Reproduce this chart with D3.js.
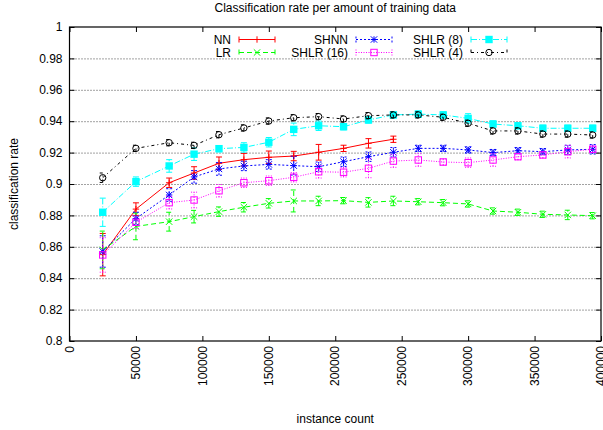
<!DOCTYPE html>
<html>
<head>
<meta charset="utf-8">
<script src="https://cdn.jsdelivr.net/npm/d3@7"></script>
<style>
  body { margin: 0; background: #fff; }
  svg text { font-family: "Liberation Sans", Arial, sans-serif; font-size: 12px; fill: #000; }
</style>
</head>
<body>
<div id="chart"></div>
<script>
// training sizes
const counts = [25000, 50000, 75000, 93750, 112500, 131250, 150000, 168750, 187500, 206250,
  225000, 243750, 262500, 281250, 300000, 318750, 337500, 356250, 375000, 393750];

const nnRate = [0.855, 0.884, 0.9008, 0.907, 0.9132, 0.9155, 0.917, 0.9178, 0.9202, 0.9227, 0.9259, 0.9285];
const nnErr = [0.0135, 0.004, 0.003, 0.004, 0.004, 0.004, 0.004, 0.003, 0.005, 0.002, 0.003, 0.002];

const lrRate = [0.858, 0.873, 0.876, 0.8792, 0.8824, 0.8852, 0.8877, 0.8892, 0.8892, 0.8894,
  0.8883, 0.8892, 0.8887, 0.8881, 0.8873, 0.8828, 0.882, 0.8807, 0.8803, 0.8798];
const lrErr = [0.012, 0.0085, 0.006, 0.004, 0.003, 0.003, 0.003, 0.007, 0.003, 0.002,
  0.003, 0.003, 0.002, 0.002, 0.002, 0.002, 0.002, 0.002, 0.003, 0.002];

const shnnRate = [0.857, 0.878, 0.893, 0.9045, 0.9096, 0.9115, 0.9125, 0.9117, 0.911, 0.9142,
  0.9174, 0.9202, 0.9227, 0.9227, 0.9217, 0.92, 0.9212, 0.9206, 0.9217, 0.9221];
const shnnErr = [0.01, 0.004, 0.004, 0.004, 0.004, 0.003, 0.003, 0.006, 0.003, 0.003,
  0.003, 0.003, 0.002, 0.002, 0.002, 0.002, 0.002, 0.002, 0.003, 0.003];

const shlr16Rate = [0.8548, 0.8756, 0.8881, 0.8898, 0.8957, 0.9008, 0.9021, 0.9043, 0.9078, 0.9075,
  0.91, 0.9146, 0.9153, 0.914, 0.9136, 0.9153, 0.9174, 0.9185, 0.9206, 0.9221];
const shlr16Err = [0.011, 0.004, 0.004, 0.005, 0.004, 0.003, 0.003, 0.003, 0.004, 0.003,
  0.006, 0.004, 0.004, 0.002, 0.003, 0.004, 0.002, 0.002, 0.004, 0.002];

const shlr8Rate = [0.882, 0.9015, 0.9115, 0.919, 0.9225, 0.9233, 0.9266, 0.9348, 0.9371, 0.9365,
  0.9408, 0.944, 0.9445, 0.944, 0.9418, 0.9382, 0.9371, 0.9355, 0.9355, 0.9355];
const shlr8Err = [0.009, 0.003, 0.004, 0.004, 0.002, 0.003, 0.003, 0.004, 0.003, 0.002,
  0.002, 0.002, 0.002, 0.002, 0.003, 0.002, 0.002, 0.002, 0.002, 0.002];

const shlr4Rate = [0.904, 0.9227, 0.9263, 0.9246, 0.9314, 0.9357, 0.9401, 0.9422, 0.9429, 0.9414,
  0.9435, 0.944, 0.944, 0.9425, 0.9387, 0.9338, 0.9338, 0.9318, 0.9318, 0.9312];
const shlr4Err = [0.003, 0.002, 0.002, 0.002, 0.002, 0.002, 0.002, 0.002, 0.002, 0.002,
  0.002, 0.002, 0.002, 0.002, 0.002, 0.002, 0.002, 0.002, 0.002, 0.002];

const xTicks = [0, 50000, 100000, 150000, 200000, 250000, 300000, 350000, 400000];
const yTicks = [0.8, 0.82, 0.84, 0.86, 0.88, 0.9, 0.92, 0.94, 0.96, 0.98, 1];

const series = [
  { name: "NN", rate: nnRate, err: nnErr, color: "#ff0000", dash: null, mark: "plus" },
  { name: "LR", rate: lrRate, err: lrErr, color: "#00ff00", dash: "5,3", mark: "cross" },
  { name: "SHNN", rate: shnnRate, err: shnnErr, color: "#0000ff", dash: "2,2", mark: "star" },
  { name: "SHLR (16)", rate: shlr16Rate, err: shlr16Err, color: "#ff00ff", dash: "1,1.5", mark: "box" },
  { name: "SHLR (8)", rate: shlr8Rate, err: shlr8Err, color: "#00ffff", dash: "6,2,1,2", mark: "fbox" },
  { name: "SHLR (4)", rate: shlr4Rate, err: shlr4Err, color: "#000000", dash: "3,3,1,3", mark: "circle" }
];

const width = 603, height = 430,
    margin = ({ top: 27, right: 2, bottom: 89, left: 69.5 });

const svg = d3.select("#chart")
    .append("svg")
    .attr("width", width)
    .attr("height", height);

let x = d3.scaleLinear()
    .domain([0, 400000])
    .range([margin.left, width - margin.right]);

let y = d3.scaleLinear()
    .domain([0.8, 1])
    .range([height - margin.bottom, margin.top]);

// grid
svg.append("g")
    .selectAll("line")
    .data(yTicks.slice(1, -1))
    .join("line")
    .attr("x1", margin.left)
    .attr("x2", width - margin.right)
    .attr("y1", d => y(d) + 0.5)
    .attr("y2", d => y(d) + 0.5)
    .attr("stroke", "#444")
    .attr("stroke-width", 1)
    .attr("stroke-dasharray", "1,2");

// y axis (ticks inward, mirrored)
svg.append("g")
    .attr("transform", `translate(${margin.left},0)`)
    .call(d3.axisRight(y).tickValues(yTicks).tickSize(5).tickFormat(""))
    .call(g => g.select(".domain").remove());
svg.append("g")
    .attr("transform", `translate(${width - margin.right},0)`)
    .call(d3.axisLeft(y).tickValues(yTicks).tickSize(5).tickFormat(""))
    .call(g => g.select(".domain").remove());
svg.append("g")
    .selectAll("text")
    .data(yTicks)
    .join("text")
    .attr("x", margin.left - 7)
    .attr("y", d => y(d))
    .attr("dy", "0.35em")
    .attr("text-anchor", "end")
    .text(d => d3.format("")(+d.toFixed(2)));

// x axis
svg.append("g")
    .attr("transform", `translate(0,${height - margin.bottom})`)
    .call(d3.axisTop(x).tickValues(xTicks).tickSize(5).tickFormat(""))
    .call(g => g.select(".domain").remove());
svg.append("g")
    .attr("transform", `translate(0,${margin.top})`)
    .call(d3.axisBottom(x).tickValues(xTicks).tickSize(5).tickFormat(""))
    .call(g => g.select(".domain").remove());
svg.append("g")
    .selectAll("text")
    .data(xTicks)
    .join("text")
    .attr("transform", d => `translate(${x(d)},${height - margin.bottom + 5}) rotate(-90)`)
    .attr("dy", "0.35em")
    .attr("text-anchor", "end")
    .text(d => d);

// frame
svg.append("rect")
    .attr("x", margin.left)
    .attr("y", margin.top)
    .attr("width", width - margin.right - margin.left)
    .attr("height", height - margin.bottom - margin.top)
    .attr("fill", "none")
    .attr("stroke", "#000")
    .attr("stroke-width", 1.2);

function drawMark(g, mark, cx, cy, color) {
  const s = 3.2;
  if (mark === "plus") {
    g.append("path").attr("d", `M${cx - s},${cy}H${cx + s}M${cx},${cy - s}V${cy + s}`)
      .attr("stroke", color).attr("fill", "none");
  } else if (mark === "cross") {
    g.append("path").attr("d", `M${cx - s},${cy - s}L${cx + s},${cy + s}M${cx - s},${cy + s}L${cx + s},${cy - s}`)
      .attr("stroke", color).attr("fill", "none");
  } else if (mark === "star") {
    g.append("path").attr("d", `M${cx - s},${cy}H${cx + s}M${cx},${cy - s}V${cy + s}M${cx - s},${cy - s}L${cx + s},${cy + s}M${cx - s},${cy + s}L${cx + s},${cy - s}`)
      .attr("stroke", color).attr("fill", "none");
  } else if (mark === "box") {
    g.append("rect").attr("x", cx - s).attr("y", cy - s).attr("width", 2 * s).attr("height", 2 * s)
      .attr("stroke", color).attr("fill", "none");
  } else if (mark === "fbox") {
    g.append("rect").attr("x", cx - s - 0.5).attr("y", cy - s - 0.5).attr("width", 2 * s + 1).attr("height", 2 * s + 1)
      .attr("fill", color);
  } else if (mark === "circle") {
    g.append("circle").attr("cx", cx).attr("cy", cy).attr("r", s)
      .attr("stroke", color).attr("fill", "none");
  }
}

const line = d3.line()
    .x(d => x(d.n))
    .y(d => y(d.v));

for (let s of series) {
  const pts = s.rate.map((v, i) => ({ n: counts[i], v: v, e: s.err[i] }));
  const g = svg.append("g").attr("class", "series");

  g.append("path")
    .datum(pts)
    .attr("d", line)
    .attr("fill", "none")
    .attr("stroke", s.color)
    .attr("stroke-width", 1)
    .attr("stroke-dasharray", s.dash);

  // error bars
  g.selectAll("path.err")
    .data(pts)
    .join("path")
    .attr("class", "err")
    .attr("d", d => {
      const cx = x(d.n), y1 = y(d.v - d.e), y2 = y(d.v + d.e);
      return `M${cx},${y1}V${y2}M${cx - 3},${y1}H${cx + 3}M${cx - 3},${y2}H${cx + 3}`;
    })
    .attr("fill", "none")
    .attr("stroke", s.color)
    .attr("stroke-width", 1)
    .attr("stroke-dasharray", s.dash);

  for (let p of pts) drawMark(g, s.mark, x(p.n), y(p.v), s.color);
}

// legend
const legCols = [231, 348, 463],
    legRows = [39.5, 52.5];
series.forEach((s, i) => {
  const col = Math.floor(i / 2), row = i % 2;
  const tx = legCols[col], ty = legRows[row];
  const g = svg.append("g").attr("class", "legend");
  g.append("text")
    .attr("x", tx)
    .attr("y", ty)
    .attr("dy", "0.35em")
    .attr("text-anchor", "end")
    .text(s.name);
  const x1 = tx + 8, x2 = tx + 44;
  g.append("path")
    .attr("d", `M${x1},${ty}H${x2}M${x1},${ty - 3}V${ty + 3}M${x2},${ty - 3}V${ty + 3}`)
    .attr("fill", "none")
    .attr("stroke", s.color)
    .attr("stroke-dasharray", s.dash);
  drawMark(g, s.mark, (x1 + x2) / 2, ty, s.color);
});

// titles
svg.append("text")
    .attr("x", (margin.left + width - margin.right) / 2)
    .attr("y", 12)
    .attr("text-anchor", "middle")
    .text("Classification rate per amount of training data");

svg.append("text")
    .attr("x", (margin.left + width - margin.right) / 2)
    .attr("y", 423)
    .attr("text-anchor", "middle")
    .text("instance count");

svg.append("text")
    .attr("transform", `translate(18,${(margin.top + height - margin.bottom) / 2}) rotate(-90)`)
    .attr("text-anchor", "middle")
    .text("classification rate");
</script>
</body>
</html>
